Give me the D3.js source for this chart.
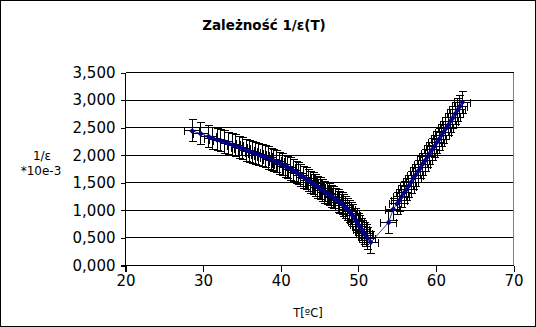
<!DOCTYPE html>
<html><head><meta charset="utf-8">
<script src="https://cdn.jsdelivr.net/npm/d3@7"></script>
<style>html,body{margin:0;padding:0;background:#fff}svg{display:block}</style>
</head><body>
<script>
const temps = [28.6,29.7,30.7,31.2,31.8,32.3,32.8,33.3,33.8,34.2,34.7,35.1,35.6,36.0,36.4,36.8,37.2,37.6,38.0,38.4,38.8,39.1,39.5,39.9,40.2,40.6,40.9,41.3,41.6,42.0,42.3,42.6,43.0,43.3,43.6,43.9,44.2,44.5,44.8,45.1,45.4,45.7,46.0,46.3,46.6,46.8,47.1,47.4,47.6,47.9,48.1,48.4,48.6,48.9,49.1,49.3,49.6,49.8,50.0,50.2,50.4,50.6,50.8,51.0,51.2,51.6,
  53.9,54.5,55.0,55.3,55.6,55.9,56.2,56.5,56.8,57.1,57.4,57.7,58.0,58.3,58.6,58.9,59.2,59.5,59.8,60.1,60.4,60.7,61.0,61.3,61.6,61.9,62.2,62.5,62.8,63.1,63.4];
const invEps = [2.44,2.39,2.34,2.31,2.28,2.26,2.24,2.21,2.19,2.17,2.14,2.12,2.09,2.07,2.05,2.03,2.01,1.99,1.97,1.95,1.92,1.90,1.88,1.85,1.83,1.80,1.78,1.75,1.72,1.69,1.66,1.63,1.59,1.57,1.54,1.51,1.48,1.45,1.42,1.39,1.36,1.33,1.31,1.28,1.25,1.23,1.20,1.17,1.15,1.12,1.09,1.05,1.02,0.98,0.94,0.90,0.84,0.79,0.74,0.70,0.66,0.61,0.58,0.54,0.49,0.42,
  0.78,1.02,1.12,1.18,1.25,1.32,1.38,1.44,1.51,1.58,1.64,1.71,1.77,1.84,1.90,1.97,2.03,2.10,2.16,2.23,2.29,2.36,2.42,2.49,2.55,2.62,2.68,2.75,2.82,2.89,2.96];
const xErr = 1.0;
const yErr = 0.2;
const xTicks = [20,30,40,50,60,70];
const yTicks = [0,0.5,1,1.5,2,2.5,3,3.5];
const title = "Zależność 1/ε(T)";
const xTitle = "T[ºC]";
const yTitle = ["1/ε","*10e-3"];

const W=536,H=327;
const svg=d3.select("body").append("svg").attr("width",W).attr("height",H);
svg.append("rect").attr("x",0.5).attr("y",0.5).attr("width",W-1).attr("height",H-1).attr("fill","#fff").attr("stroke","#000");
const x=d3.scaleLinear().domain([20,70]).range([125.5,513.5]);
const y=d3.scaleLinear().domain([0,3.5]).range([265.5,72.5]);
const font="DejaVu Sans, sans-serif";
const r=v=>Math.round(v-0.5)+0.5;

// gridlines
svg.append("g").attr("shape-rendering","crispEdges").selectAll("line").data(yTicks.filter(d=>d>0)).join("line")
  .attr("x1",x(20)).attr("x2",x(70)).attr("y1",d=>r(y(d))).attr("y2",d=>r(y(d))).attr("stroke","#000");
svg.append("line").attr("shape-rendering","crispEdges").attr("x1",x(70)).attr("x2",x(70)).attr("y1",y(3.5)).attr("y2",y(0)).attr("stroke","#808080");

const fmt=d=>d3.format(".3f")(d).replace(".",",");
const yAxis=d3.axisLeft(y).tickValues(yTicks).tickFormat(fmt).tickSize(5).tickPadding(5);
const gy=svg.append("g").attr("transform",`translate(${x(20)},0)`).attr("shape-rendering","crispEdges").call(yAxis);
gy.select(".domain").attr("d",`M0,${y(3.5)}V${y(0)+6}`);
gy.selectAll("text").attr("font-family",font).attr("font-size",15).attr("fill","#000");
const xAxis=d3.axisBottom(x).tickValues(xTicks).tickFormat(d3.format("d")).tickSize(6).tickPadding(4);
const gx=svg.append("g").attr("transform",`translate(0,${y(0)})`).attr("shape-rendering","crispEdges").call(xAxis);
gx.select(".domain").attr("d",`M${x(20)-5},0H${x(70)}`);
gx.selectAll("text").attr("font-family",font).attr("font-size",15).attr("fill","#000");

const data=temps.map((t,i)=>({t,v:invEps[i]}));
const cap=4;
const eb=svg.append("g").attr("stroke","#000").attr("stroke-width",1).attr("fill","none").attr("shape-rendering","crispEdges");
eb.selectAll("path").data(data).join("path").attr("d",d=>{
  const cx=r(x(d.t)),cy=r(y(d.v)),y1=r(y(d.v+yErr)),y2=r(y(d.v-yErr)),x1=r(x(d.t-xErr)),x2=r(x(d.t+xErr));
  return `M${cx},${y1}V${y2}M${cx-cap},${y1}H${cx+cap}M${cx-cap},${y2}H${cx+cap}`+
         `M${x1},${cy}H${x2}M${x1},${cy-cap}V${cy+cap}M${x2},${cy-cap}V${cy+cap}`;
});
svg.append("path").datum(data).attr("fill","none").attr("stroke","#000080").attr("stroke-width",0.8)
  .attr("d",d3.line().x(d=>x(d.t)).y(d=>y(d.v)));
svg.append("g").selectAll("path").data(data).join("path")
  .attr("transform",d=>`translate(${x(d.t)},${y(d.v)})`)
  .attr("d","M0,-3L3,0L0,3L-3,0Z").attr("fill","#000080");

svg.append("text").attr("x",264).attr("y",30).attr("text-anchor","middle").attr("font-family",font)
  .attr("font-weight","bold").attr("font-size",13.5).text(title);
svg.append("text").attr("x",308).attr("y",317).attr("text-anchor","middle").attr("font-family",font)
  .attr("font-size",11.5).text(xTitle);
svg.append("text").attr("x",42).attr("y",160).attr("text-anchor","middle").attr("font-family",font)
  .attr("font-size",12).text(yTitle[0]);
svg.append("text").attr("x",41).attr("y",175).attr("text-anchor","middle").attr("font-family",font)
  .attr("font-size",12).text(yTitle[1]);
</script>
</body></html>
